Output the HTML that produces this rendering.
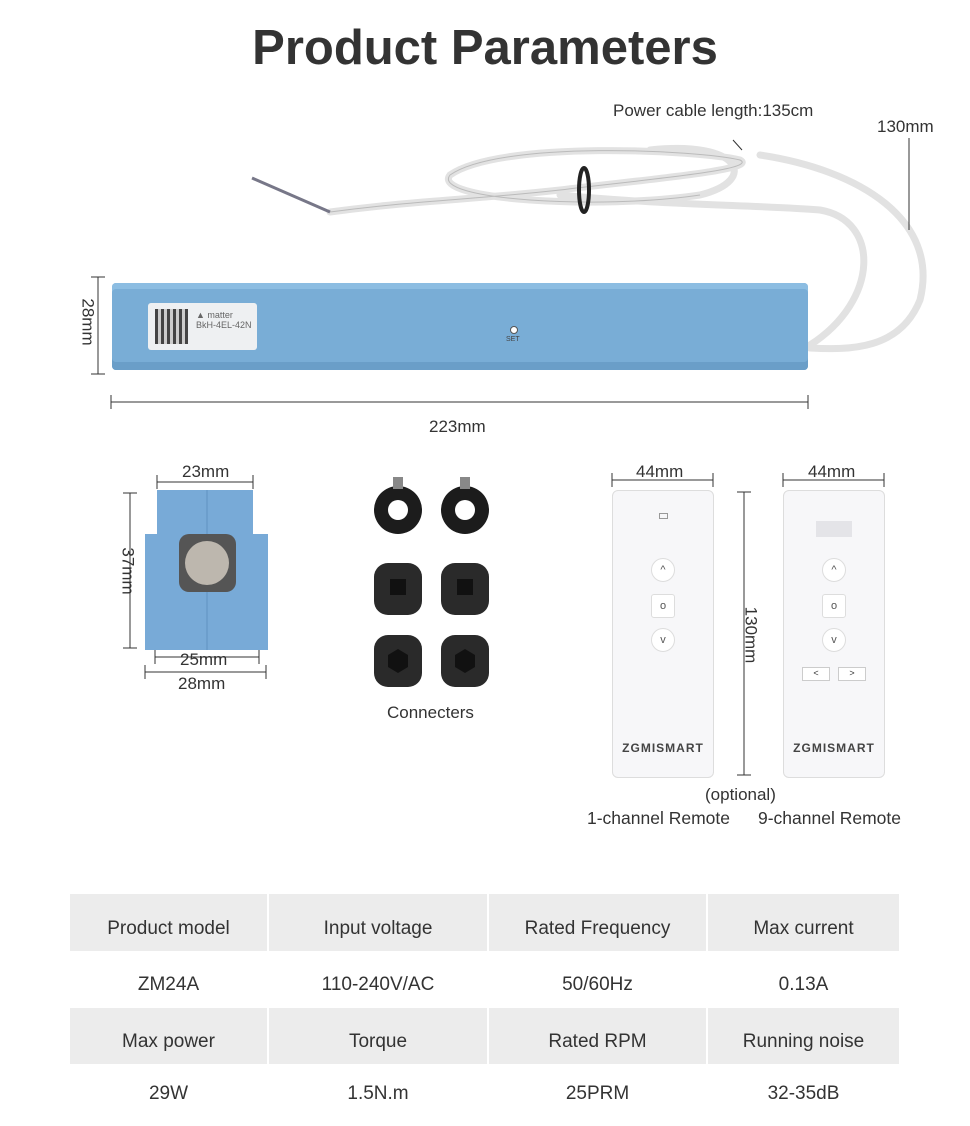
<!DOCTYPE html>
<html><head><meta charset="utf-8"><style>
body{margin:0;width:970px;height:1126px;background:#fff;font-family:"Liberation Sans",sans-serif;color:#333;position:relative;overflow:hidden}
.a{position:absolute}
.t{position:absolute;font-size:16px;color:#333;white-space:nowrap}
.cell{position:absolute;display:flex;align-items:center;justify-content:center;font-size:19px;color:#333;box-sizing:border-box;padding-top:12px}
.g{background:#ececec}
.rem{position:absolute;background:#f7f7f9;border:1px solid #ddd;border-radius:6px;width:100px;height:286px}
.btn{position:absolute;width:22px;height:22px;border-radius:50%;background:#fff;border:1px solid #ddd;left:38px;font-size:11px;text-align:center;line-height:22px;color:#555}
.logo{position:absolute;bottom:22px;width:100%;text-align:center;font-size:12px;font-weight:bold;color:#444;letter-spacing:1px}
</style></head><body>
<div class="a" style="left:0;top:20px;width:970px;text-align:center;font-size:49px;font-weight:bold;color:#333">Product Parameters</div>
<div class="t" style="left:613px;top:101px;font-size:17px">Power cable length:135cm</div>
<div class="t" style="left:877px;top:117px;font-size:17px">130mm</div>
<svg class="a" style="left:0;top:0" width="970" height="460">
<g fill="none" stroke="#e2e2e2" stroke-width="7" stroke-linecap="round">
<path d="M330 212 C420 200 470 200 560 190 C640 180 760 170 740 160 C700 150 500 140 450 175 C430 200 600 210 700 195 C760 180 740 140 650 150"/>
<path d="M760 155 C860 170 940 220 920 300 C900 350 850 350 810 348"/>
<path d="M560 195 C660 205 760 205 820 210 C880 220 880 300 810 345"/>
</g>
<g fill="none" stroke="#bbb" stroke-width="1"><path d="M330 212 C420 200 470 200 560 190 C640 180 760 170 740 160 C700 150 500 140 450 175 C430 200 600 210 700 195"/></g>
<path d="M252 178 L330 212" stroke="#778" stroke-width="3"/>
<ellipse cx="584" cy="190" rx="5" ry="22" fill="none" stroke="#222" stroke-width="4"/>
<path d="M733 140 L742 150" stroke="#333"/>
<path d="M909 138 L909 230" stroke="#333"/>
<path d="M98 277V374M91 277H105M91 374H105" stroke="#333"/>
<path d="M111 402H808M111 395V409M808 395V409" stroke="#333"/>
</svg>
<div class="a" style="left:112px;top:283px;width:696px;height:87px;background:#79add6;border-radius:4px;box-shadow:inset 0 -8px 0 #6a9ec8,inset 0 6px 0 #8cbde2"></div>
<div class="a" style="left:148px;top:303px;width:109px;height:47px;background:#eef0f2;border-radius:3px"></div>
<div class="a" style="left:155px;top:309px;width:33px;height:35px;background:repeating-linear-gradient(90deg,#444 0 3px,#ccc 3px 6px)"></div>
<div class="t" style="left:196px;top:310px;font-size:9px;color:#666">▲ matter<br>BkH-4EL-42N</div>
<div class="a" style="left:510px;top:326px;width:6px;height:6px;border-radius:50%;background:#fff;border:1px solid #555"></div>
<div class="t" style="left:506px;top:336px;font-size:7px;color:#444">SET</div>
<div class="t" style="left:64px;top:312px;transform:rotate(90deg);font-size:17px">28mm</div>
<div class="t" style="left:429px;top:417px;font-size:17px">223mm</div>

<svg class="a" style="left:100px;top:470px" width="200" height="230">
<path d="M57 20H153V64H168V180H45V64H57Z" fill="#78aad7"/>
<line x1="107" y1="20" x2="107" y2="180" stroke="#5f92c0"/>
<rect x="79" y="64" width="57" height="58" rx="10" fill="#555"/>
<circle cx="107" cy="93" r="22" fill="#bdb7ae"/>
<path d="M57 12H153M57 5V19M153 5V19" stroke="#333"/>
<path d="M30 23V178M23 23H37M23 178H37" stroke="#333"/>
<path d="M55 187H159M55 180V194M159 180V194" stroke="#333"/>
<path d="M45 202H166M45 195V209M166 195V209" stroke="#333"/>
</svg>
<div class="t" style="left:182px;top:462px;font-size:17px">23mm</div>
<div class="t" style="left:104px;top:561px;transform:rotate(90deg);font-size:17px">37mm</div>
<div class="t" style="left:180px;top:650px;font-size:17px">25mm</div>
<div class="t" style="left:178px;top:674px;font-size:17px">28mm</div>

<svg class="a" style="left:360px;top:465px" width="150" height="230">
<g><circle cx="38" cy="45" r="24" fill="#1c1c1c"/><circle cx="38" cy="45" r="10" fill="#fff"/><rect x="33" y="12" width="10" height="12" fill="#888"/>
<circle cx="105" cy="45" r="24" fill="#1c1c1c"/><circle cx="105" cy="45" r="10" fill="#fff"/><rect x="100" y="12" width="10" height="12" fill="#888"/></g>
<g fill="#2a2a2a"><rect x="14" y="98" width="48" height="52" rx="14"/><rect x="81" y="98" width="48" height="52" rx="14"/>
<rect x="14" y="170" width="48" height="52" rx="14"/><rect x="81" y="170" width="48" height="52" rx="14"/></g>
<g fill="#111"><rect x="30" y="114" width="16" height="16"/><rect x="97" y="114" width="16" height="16"/>
<polygon points="38,184 48,190 48,202 38,208 28,202 28,190"/><polygon points="105,184 115,190 115,202 105,208 95,202 95,190"/></g>
</svg>
<div class="t" style="left:387px;top:703px;font-size:17px">Connecters</div>

<svg class="a" style="left:0;top:460px" width="970" height="330">
<path d="M612 20H713M612 13V27M713 13V27" stroke="#333"/>
<path d="M783 20H884M783 13V27M884 13V27" stroke="#333"/>
<path d="M744 32V315M737 32H751M737 315H751" stroke="#333"/>
</svg>
<div class="t" style="left:636px;top:462px;font-size:17px">44mm</div>
<div class="t" style="left:808px;top:462px;font-size:17px">44mm</div>
<div class="t" style="left:722px;top:625px;transform:rotate(90deg);font-size:17px">130mm</div>
<div class="rem" style="left:612px;top:490px">
<div class="a" style="left:46px;top:22px;width:7px;height:4px;border:1px solid #999"></div>
<div class="btn" style="top:67px">^</div><div class="btn" style="top:103px;border-radius:3px">o</div><div class="btn" style="top:137px">v</div>
<div class="logo">ZGMISMART</div></div>
<div class="rem" style="left:783px;top:490px">
<div class="a" style="left:32px;top:30px;width:36px;height:16px;background:#e4e4e8"></div>
<div class="btn" style="top:67px">^</div><div class="btn" style="top:103px;border-radius:3px">o</div><div class="btn" style="top:137px">v</div>
<div class="a" style="left:18px;top:176px;width:26px;height:12px;border:1px solid #ccc;background:#fff;font-size:9px;text-align:center">&lt;</div>
<div class="a" style="left:54px;top:176px;width:26px;height:12px;border:1px solid #ccc;background:#fff;font-size:9px;text-align:center">&gt;</div>
<div class="logo">ZGMISMART</div></div>
<div class="t" style="left:705px;top:785px;font-size:17px">(optional)</div>
<div class="t" style="left:587px;top:808px;font-size:17.5px">1-channel Remote</div>
<div class="t" style="left:758px;top:808px;font-size:17.5px">9-channel Remote</div>

<div class="cell g" style="left:70px;top:894px;width:197px;height:57px">Product model</div>
<div class="cell g" style="left:269px;top:894px;width:218px;height:57px">Input voltage</div>
<div class="cell g" style="left:489px;top:894px;width:217px;height:57px">Rated Frequency</div>
<div class="cell g" style="left:708px;top:894px;width:191px;height:57px">Max current</div>
<div class="cell" style="left:70px;top:951px;width:197px;height:56px">ZM24A</div>
<div class="cell" style="left:269px;top:951px;width:218px;height:56px">110-240V/AC</div>
<div class="cell" style="left:489px;top:951px;width:217px;height:56px">50/60Hz</div>
<div class="cell" style="left:708px;top:951px;width:191px;height:56px">0.13A</div>
<div class="cell g" style="left:70px;top:1008px;width:197px;height:56px">Max power</div>
<div class="cell g" style="left:269px;top:1008px;width:218px;height:56px">Torque</div>
<div class="cell g" style="left:489px;top:1008px;width:217px;height:56px">Rated RPM</div>
<div class="cell g" style="left:708px;top:1008px;width:191px;height:56px">Running noise</div>
<div class="cell" style="left:70px;top:1064px;width:197px;height:48px">29W</div>
<div class="cell" style="left:269px;top:1064px;width:218px;height:48px">1.5N.m</div>
<div class="cell" style="left:489px;top:1064px;width:217px;height:48px">25PRM</div>
<div class="cell" style="left:708px;top:1064px;width:191px;height:48px">32-35dB</div>
</body></html>
